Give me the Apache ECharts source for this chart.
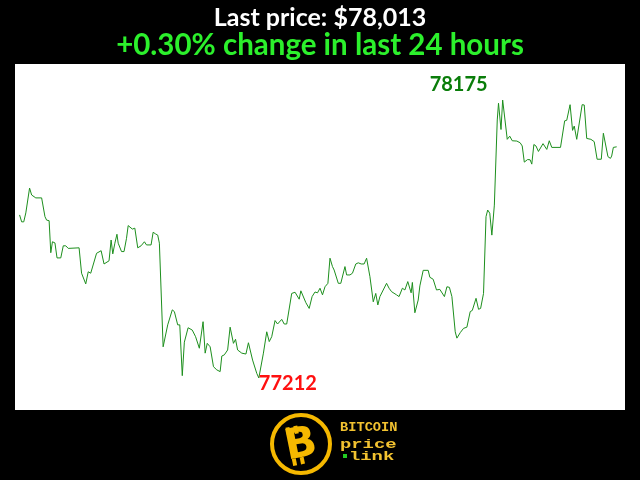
<!DOCTYPE html>
<html>
<head>
<meta charset="utf-8">
<script src="https://cdn.jsdelivr.net/npm/echarts@6/dist/echarts.min.js"></script>
<style>html,body{margin:0;padding:0;background:#000;}#c{width:640px;height:480px;}</style>
</head>
<body>
<div id="c"></div>
<script>
// minutes since start of the 24h window
var minutes = [4,9,14,19,28,33,37,43,57,65,69,75,79,83,89,94,103,109,115,121,147,153,157,163,169,175,189,193,200,207,219,224,228,233,238,241,249,255,261,265,269,275,281,288,296,304,309,320,325,331,336,340,349,353,360,371,376,384,389,395,400,404,409,419,427,436,445,450,455,462,470,478,486,490,496,504,510,518,523,528,538,548,554,558,564,574,579,590,598,604,610,618,624,634,640,646,658,666,670,676,680,683,692,700,707,714,720,726,732,738,745,750,756,760,770,776,786,790,798,804,812,818,825,832,838,846,854,860,865,870,874,886,892,898,910,916,924,930,937,945,948,954,962,966,974,986,990,998,1006,1014,1025,1031,1037,1043,1051,1055,1063,1071,1079,1087,1092,1101,1107,1112,1119,1125,1129,1134,1139,1145,1152,1155,1161,1165,1169,1176,1182,1188,1199,1207,1212,1217,1225,1231,1235,1240,1245,1251,1255,1262,1271,1277,1283,1304,1314,1319,1327,1333,1337,1343,1347,1356,1361,1367,1377,1385,1392,1402,1407,1411,1418,1424,1427,1431,1439];
var prices = [77777,77753,77753,77784,77870,77846,77843,77836,77836,77771,77759,77757,77646,77684,77680,77628,77628,77670,77670,77661,77663,77575,77569,77538,77580,77575,77644,77638,77653,77607,77618,77690,77642,77679,77710,77679,77650,77650,77696,77740,77736,77728,77731,77663,77670,77684,77673,77673,77717,77711,77707,77679,77320,77315,77396,77448,77442,77396,77396,77220,77336,77336,77386,77378,77355,77315,77407,77298,77332,77320,77251,77240,77234,77288,77292,77309,77388,77332,77346,77309,77298,77295,77334,77334,77274,77228,77212,77298,77372,77338,77355,77411,77399,77415,77399,77399,77505,77509,77507,77485,77514,77511,77473,77453,77494,77510,77507,77523,77500,77528,77540,77627,77598,77586,77540,77540,77598,77569,77569,77575,77607,77611,77607,77607,77627,77563,77476,77505,77465,77494,77488,77540,77523,77511,77500,77494,77523,77517,77546,77507,77543,77438,77482,77531,77585,77585,77561,77554,77517,77519,77494,77528,77526,77494,77372,77350,77369,77384,77388,77442,77446,77488,77450,77453,77505,77771,77794,77783,77707,77811,78106,78164,78073,78175,78172,78039,78050,78034,78033,78027,78016,77960,77969,77968,77953,78021,78016,77997,77998,78024,78004,78034,78011,78011,78103,78105,78159,78070,78085,78039,78039,78159,78158,78042,78039,78031,77970,77970,78060,78060,77979,77973,77981,78011,78013];
var titleText = 'Last price: $78,013';
var subtitleText = '+0.30% change in last 24 hours';

var seriesData = minutes.map(function (m, i) { return [m, prices[i]]; });

var gold = '#f2c230';
var chart = echarts.init(document.getElementById('c'), null, {renderer: 'canvas'});
chart.setOption({
  backgroundColor: '#000',
  animation: false,
  title: [
    {text: titleText, left: 'center', top: 0,
     textStyle: {color: '#fff', fontSize: 25, fontWeight: 'bold', fontFamily: 'Lato'}},
    {text: subtitleText, left: 'center', top: 25,
     textStyle: {color: '#2cf02c', fontSize: 29.5, fontWeight: 'bold', fontFamily: 'Lato'}}
  ],
  grid: {left: 15, top: 64, width: 610, height: 346, show: true, backgroundColor: '#fff', borderWidth: 0},
  xAxis: {type: 'value', min: -7, max: 1459, show: false},
  yAxis: {type: 'value', min: 77101, max: 78300, show: false},
  series: [{
    type: 'line',
    data: seriesData,
    showSymbol: false,
    symbol: 'none',
    lineStyle: {color: '#1d8f1d', width: 1},
    markPoint: {
      symbol: 'circle',
      symbolSize: 1,
      itemStyle: {color: 'rgba(0,0,0,0)'},
      data: [
        {type: 'max', label: {show: true, position: 'inside', offset: [-44, -16], color: '#0a7d0a', fontSize: 20, fontWeight: 'bold', fontFamily: 'Lato', formatter: '{c}'}},
        {type: 'min', label: {show: true, position: 'inside', offset: [29, 6], color: '#ff1010', fontSize: 20, fontWeight: 'bold', fontFamily: 'Lato', formatter: '{c}'}}
      ]
    }
  }],
  graphic: [
    {type: 'group', left: 270, top: 413, children: [
      {type: 'circle', shape: {cx: 31, cy: 31, r: 29}, style: {fill: '#000', stroke: '#f5b800', lineWidth: 4}},
      {type: 'text', x: 31, y: 33, rotation: 0.2, style: {text: 'B', fill: '#f5b800', font: 'bold 42px "DejaVu Sans"', align: 'center', verticalAlign: 'middle'}},
      {type: 'rect', shape: {x: 19, y: 12, width: 4, height: 8}, rotation: 0.2, originX: 31, originY: 31, style: {fill: '#f5b800'}},
      {type: 'rect', shape: {x: 27, y: 12, width: 4, height: 8}, rotation: 0.2, originX: 31, originY: 31, style: {fill: '#f5b800'}},
      {type: 'rect', shape: {x: 19, y: 44, width: 4, height: 7}, rotation: 0.2, originX: 31, originY: 31, style: {fill: '#f5b800'}},
      {type: 'rect', shape: {x: 27, y: 44, width: 4, height: 7}, rotation: 0.2, originX: 31, originY: 31, style: {fill: '#f5b800'}}
    ]},
    {type: 'text', x: 340, y: 434, scaleX: 1.14, style: {text: 'BITCOIN', fill: gold, font: 'bold 12px "Liberation Mono"', verticalAlign: 'bottom'}},
    {type: 'text', x: 340, y: 451, scaleX: 1.45, style: {text: 'price', fill: gold, font: 'bold 13px "Liberation Mono"', verticalAlign: 'bottom'}},
    {type: 'rect', shape: {x: 343, y: 454, width: 4, height: 4}, style: {fill: '#22cc22'}},
    {type: 'text', x: 349, y: 463, scaleX: 1.45, style: {text: 'link', fill: gold, font: 'bold 13px "Liberation Mono"', verticalAlign: 'bottom'}}
  ]
});
</script>
</body>
</html>
